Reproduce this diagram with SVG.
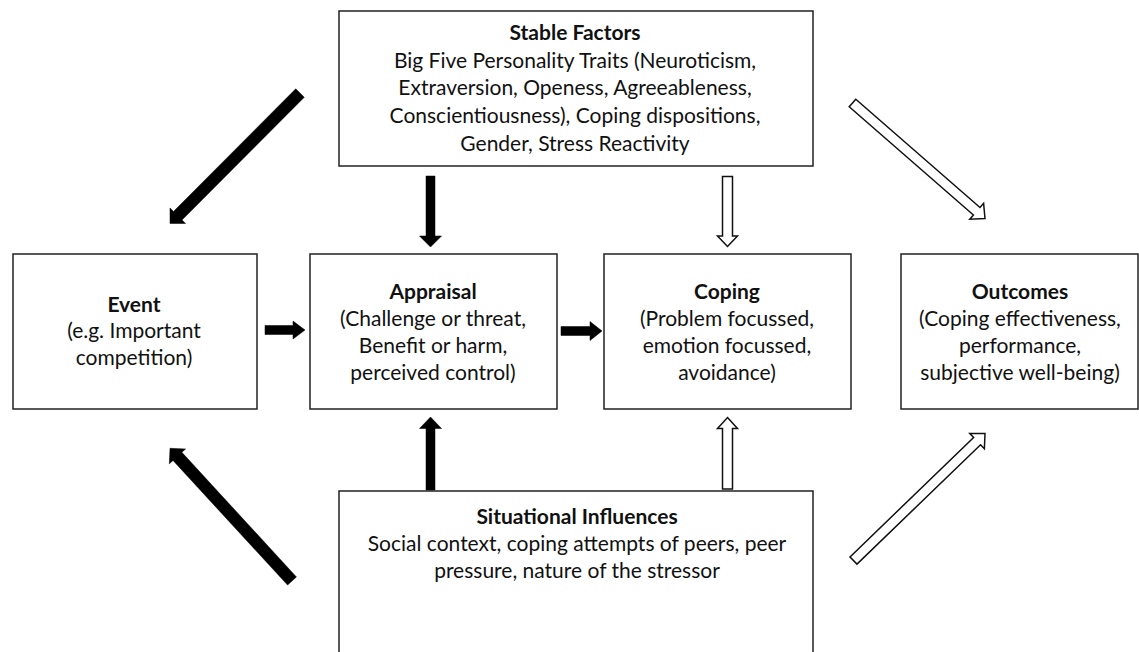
<svg xmlns="http://www.w3.org/2000/svg" width="1139" height="652" viewBox="0 0 1139 652">
<style>
.box{fill:#fff;stroke:#222;stroke-width:1.5}
text{font-family:Lato,"Liberation Sans",sans-serif;font-size:21px;fill:#111;text-anchor:middle}
.h{font-weight:bold}
.solid{fill:#000;stroke:#000;stroke-width:0.5}
.hollow{fill:#fff;stroke:#111;stroke-width:1.5;stroke-linejoin:miter}
</style>
<g id="stable">
<rect class="box" x="339" y="11" width="474" height="155"/>
<text class="h" x="575" y="40">Stable Factors</text>
<text x="575" y="68">Big Five Personality Traits (Neuroticism,</text>
<text x="575" y="95">Extraversion, Openess, Agreeableness,</text>
<text x="575" y="123">Conscientiousness), Coping dispositions,</text>
<text x="575" y="151">Gender, Stress Reactivity</text>
</g>
<g id="event">
<rect class="box" x="13" y="254" width="244" height="155"/>
<text class="h" x="134" y="312">Event</text>
<text x="134" y="338">(e.g. Important</text>
<text x="134" y="365">competition)</text>
</g>
<g id="appraisal">
<rect class="box" x="310" y="254" width="247" height="155"/>
<text class="h" x="433" y="299">Appraisal</text>
<text x="433" y="326">(Challenge or threat,</text>
<text x="433" y="353">Benefit or harm,</text>
<text x="433" y="380">perceived control)</text>
</g>
<g id="coping">
<rect class="box" x="604" y="254" width="247" height="155"/>
<text class="h" x="727" y="299">Coping</text>
<text x="727" y="326">(Problem focussed,</text>
<text x="727" y="353">emotion focussed,</text>
<text x="727" y="380">avoidance)</text>
</g>
<g id="outcomes">
<rect class="box" x="901" y="254" width="237" height="155"/>
<text class="h" x="1020" y="299">Outcomes</text>
<text x="1020" y="326">(Coping effectiveness,</text>
<text x="1020" y="353">performance,</text>
<text x="1020" y="380">subjective well-being)</text>
</g>
<g id="situational">
<rect class="box" x="339" y="491" width="474" height="170"/>
<text class="h" x="577" y="524">Situational Influences</text>
<text x="577" y="551">Social context, coping attempts of peers, peer</text>
<text x="577" y="578">pressure, nature of the stressor</text>
</g>
<g id="connectors">
<polygon class="solid" points="265,325.5 293,325.5 293,321 305,330 293,339 293,334.5 265,334.5"/>
<polygon class="solid" points="561,326.5 590,326.5 590,321.5 602,331 590,340.5 590,335.5 561,335.5"/>
<polygon class="solid" points="426,176 435,176 435,236 441.5,236 430.5,247 419.5,236 426,236"/>
<polygon class="hollow" points="722.5,176.5 732.5,176.5 732.5,236 737.5,236 727.5,246.5 717.5,236 722.5,236"/>
<polygon class="solid" points="430.5,417 441.5,428.5 435,428.5 435,490 426,490 426,428.5 419.5,428.5"/>
<polygon class="hollow" points="727.5,417.5 737.5,428.5 732.5,428.5 732.5,489 722.5,489 722.5,428.5 717.5,428.5"/>
<polygon class="solid" points="304.25,97.23 182.01,219.94 185.55,223.47 170,223.5 169.97,207.95 173.51,211.48 295.75,88.77"/>
<polygon class="solid" points="296.42,576.94 181.86,452.35 185.55,448.97 170,448.3 169.33,463.85 173.02,460.47 287.58,585.06"/>
<polygon class="hollow" points="849.21,106.77 973.42,215.04 969.81,219.18 985,218.5 983.61,203.36 980,207.5 855.79,99.23"/>
<polygon class="hollow" points="856.97,564.1 980.56,444.74 984.38,448.69 985,433.5 969.8,433.59 973.62,437.54 850.03,556.9"/>
</g>
</svg>
